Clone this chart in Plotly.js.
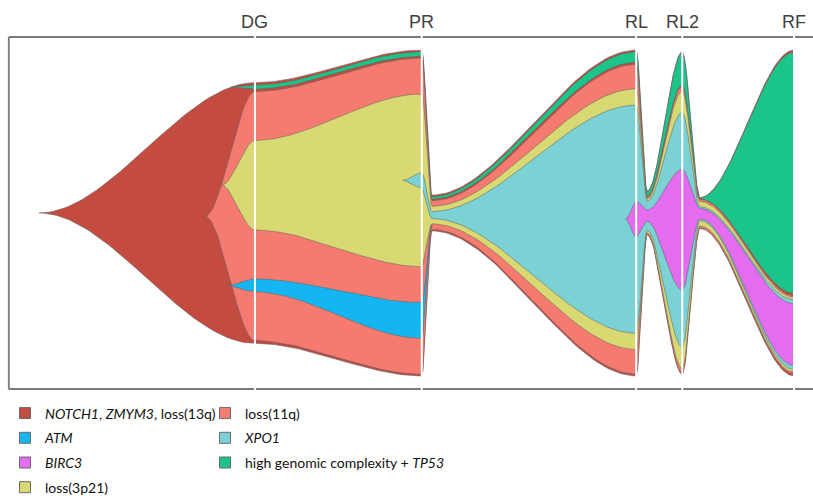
<!DOCTYPE html>
<html><head><meta charset="utf-8">
<script src="https://cdn.plot.ly/plotly-3.0.1.min.js"></script>
<style>html,body{margin:0;padding:0;overflow:hidden;background:#fff}</style>
</head><body><div id="chart" style="width:813px;height:496px"></div>
<script>
// ---- data ----
const cloneNames = ['<i>NOTCH1</i>, <i>ZMYM3</i>, loss(13q)', 'high genomic complexity + <i>TP53</i>', 'loss(11q)', 'loss(3p21)', '<i>ATM</i>', '<i>XPO1</i>', '<i>BIRC3</i>'];
const cloneColors = ['#C44B40', '#1BC489', '#F57B70', '#D9D974', '#14B6F2', '#7BD1D3', '#E46CEE'];
const cloneParents = [-1, 0, 0, 2, 2, 3, 5];
const emergeTimes = [0, 25.4, 22.0, 24.2, 25.0, 48.2, 77.7];
const timepoints = [28.6, 50.7, 52.05, 79.1, 80.55, 85.2, 87.55, 100];
const timeLabels = ['DG', 'PR', '', 'RL', '', 'RL2', '', 'RF'];
// clone fractions (% of maximal tumour size) at each timepoint
const fracNOTCH1 = [80, 100, 11, 100, 13.5, 99, 9.5, 100];
const fracTP53   = [1.2, 1.4, 0.8, 3.2, 1.5, 9.8, 0.3, 74];
const frac11q    = [76.5, 97, 8.8, 95, 11.5, 88, 8.8, 24];
const frac3p21   = [27.5, 53, 5.4, 80, 10.5, 85, 7.5, 23];
const fracATM    = [4, 11, 0, 0, 0, 0, 0, 0];
const fracXPO1   = [0, 4.6, 2.2, 70, 9, 72, 4.2, 21.5];
const fracBIRC3  = [0, 0, 0, 11, 3.5, 37, 3.2, 19];
const legendCol1 = [0, 4, 6, 3];
const legendCol2 = [2, 5, 1];

// ---- fish layout ----
const fracTable = [fracNOTCH1, fracTP53, frac11q, frac3p21, fracATM, fracXPO1, fracBIRC3];
const nC = cloneNames.length, nT = timepoints.length;
const children = cloneNames.map((_, c) => cloneParents.map((p, k) => p === c ? k : -1).filter(k => k >= 0));
const pos = cloneNames.map(() => new Array(nT).fill(null));
for (let i = 0; i < nT; i++) {
  const place = (c, top, bot) => {
    pos[c][i] = {top, bot};
    const kids = children[c].filter(k => fracTable[k][i] > 0);
    const used = kids.reduce((s, k) => s + fracTable[k][i], 0);
    const gap = (top - bot - used) / (kids.length + 1);
    let y = top - gap;
    kids.forEach(k => { const f = fracTable[k][i]; place(k, y, y - f); y -= f + gap; });
    children[c].forEach(k => {
      if (fracTable[k][i] > 0 || i === 0) return;
      const prev = pos[k][i - 1], pp = pos[c][i - 1];
      if (!prev || !pp || prev.top === prev.bot) return;
      const r = (pp.top - (prev.top + prev.bot) / 2) / (pp.top - pp.bot);
      const yc = top - r * (top - bot);
      pos[k][i] = {top: yc, bot: yc};
    });
  };
  const f0 = fracTable[0][i];
  place(0, 50 + f0 / 2, 50 - f0 / 2);
}
const ease = u => u * u * (3 - 2 * u);
const traces = [];
for (let c = 0; c < nC; c++) {
  const idx = [];
  for (let i = 0; i < nT; i++) if (pos[c][i]) idx.push(i);
  const p0 = pos[c][idx[0]], yc = (p0.top + p0.bot) / 2;
  const ks = [{x: emergeTimes[c], top: yc, bot: yc}];
  idx.forEach(i => ks.push({x: timepoints[i], top: pos[c][i].top, bot: pos[c][i].bot}));
  const xs = [], tops = [], bots = [];
  for (let s = 0; s < ks.length - 1; s++) {
    const a = ks[s], b = ks[s + 1], n = 60;
    for (let j = (s === 0 ? 0 : 1); j <= n; j++) {
      const u = j / n, e = ease(u);
      xs.push(a.x + (b.x - a.x) * u);
      tops.push(a.top + (b.top - a.top) * e);
      bots.push(a.bot + (b.bot - a.bot) * e);
    }
  }
  traces.push({
    type: 'scatter', mode: 'lines',
    x: xs.concat(xs.slice().reverse(), [xs[0]]),
    y: tops.concat(bots.slice().reverse(), [tops[0]]),
    fill: 'toself', fillcolor: cloneColors[c],
    line: {color: 'rgba(95,95,95,0.75)', width: 0.7},
    hoverinfo: 'skip', showlegend: false
  });
}
const legFont = {family: 'Lato, Roboto, sans-serif', size: 14, color: '#111111'};
[[legendCol1, 'legend'], [legendCol2, 'legend2']].forEach(([arr, lg]) => arr.forEach(c => traces.push({
  type: 'scatter', mode: 'markers', x: [null], y: [null], name: cloneNames[c], legend: lg, legendgroup: 'g' + c,
  marker: {symbol: 'square', size: 11, color: cloneColors[c], line: {color: '#6a6a6a', width: 1}},
  hoverinfo: 'skip', showlegend: true
})));

const shapes = [
  {type: 'line', xref: 'x', yref: 'y', x0: -4, x1: 103, y0: 104, y1: 104, line: {color: '#7a7a7a', width: 1.8}, layer: 'above'},
  {type: 'line', xref: 'x', yref: 'y', x0: -4, x1: 103, y0: -4, y1: -4, line: {color: '#7a7a7a', width: 1.8}, layer: 'above'},
  {type: 'line', xref: 'x', yref: 'y', x0: -4, x1: -4, y0: -4, y1: 104, line: {color: '#7a7a7a', width: 1.8}, layer: 'above'}
];
const annotations = [];
timepoints.forEach((t, i) => {
  if (!timeLabels[i]) return;
  shapes.push({type: 'line', xref: 'x', yref: 'y', x0: t, x1: t, y0: -5.2, y1: 105.2, line: {color: '#ffffff', width: 2}, layer: 'above'});
  annotations.push({x: t, y: 1.0319, xref: 'x', yref: 'paper', text: timeLabels[i], showarrow: false, yanchor: 'middle', xanchor: 'center',
    font: {family: 'Liberation Sans, Arial, sans-serif', size: 18, color: '#404040'}});
});

const legBase = {xref: 'container', yref: 'container', y: 1 - 397.5 / 496, xanchor: 'left', yanchor: 'top',
  bgcolor: 'rgba(0,0,0,0)', font: legFont, itemwidth: 30, tracegroupgap: 3.5, traceorder: 'grouped'};
const layout = {
  width: 813, height: 496, margin: {l: 5, r: 0, t: 33, b: 103, pad: 0, autoexpand: false},
  paper_bgcolor: '#ffffff', plot_bgcolor: '#ffffff',
  xaxis: {range: [-4.503, 102.517], visible: false, fixedrange: true},
  yaxis: {range: [-5.227, 105.227], visible: false, fixedrange: true},
  showlegend: true,
  legend: Object.assign({}, legBase, {x: 5 / 813}),
  legend2: Object.assign({}, legBase, {x: 205 / 813}),
  shapes: shapes, annotations: annotations
};
Plotly.newPlot('chart', traces, layout, {displayModeBar: false, staticPlot: true});
</script></body></html>
